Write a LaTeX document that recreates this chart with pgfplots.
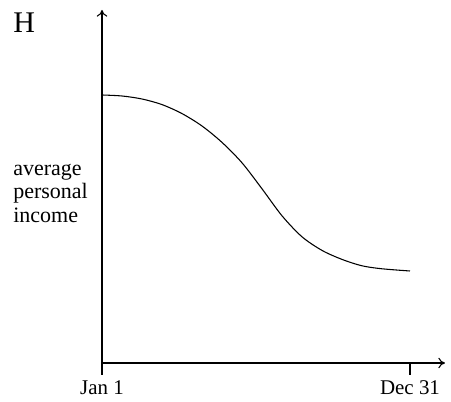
\documentclass[border=0pt]{standalone}
\usepackage{pgfplots}
\pgfplotsset{compat=1.18}
\usetikzlibrary{arrows.meta}
\usepackage{fontspec}
\setmainfont{Liberation Serif}
\begin{document}
\begin{tikzpicture}
\begin{axis}[
  x=0.75pt, y=0.75pt,
  xmin=0, xmax=343, ymin=0, ymax=353,
  axis x line=bottom, axis y line=left,
  axis line style={line width=0.8pt, -{To[length=5pt,width=8pt]}},
  xtick={0,308}, xticklabels={Jan 1, Dec 31},
  ytick=\empty,
  tick style={line width=0.8pt, black},
  major tick length=9pt,
  tick align=outside,
  xticklabel style={font=\fontsize{15.7}{18}\selectfont, yshift=-0.5pt},
  clip=false,
]
\addplot[line width=0.8pt, smooth, tension=0.5] coordinates {
(0,268) (20,267) (40,264) (60,258.4) (80,249.4) (100,237) (120,220.6) (140,200.2) (160,174.2) (180,147.2) (200,126.2) (220,112.6) (240,103.6) (260,97.2) (280,94.2) (308,92)
};
\node[anchor=base west, inner sep=0pt, font=\fontsize{22.5}{24}\selectfont] at (axis cs:-89,330) {H};
\node[anchor=base west, inner sep=0pt, font=\fontsize{16.5}{18}\selectfont] at (axis cs:-89,187) {average};
\node[anchor=base west, inner sep=0pt, font=\fontsize{16.5}{18}\selectfont] at (axis cs:-89,164) {personal};
\node[anchor=base west, inner sep=0pt, font=\fontsize{16.5}{18}\selectfont] at (axis cs:-89,140) {income};
\path (axis cs:-102,-39) rectangle (axis cs:349,363);
\end{axis}
\end{tikzpicture}
\end{document}
